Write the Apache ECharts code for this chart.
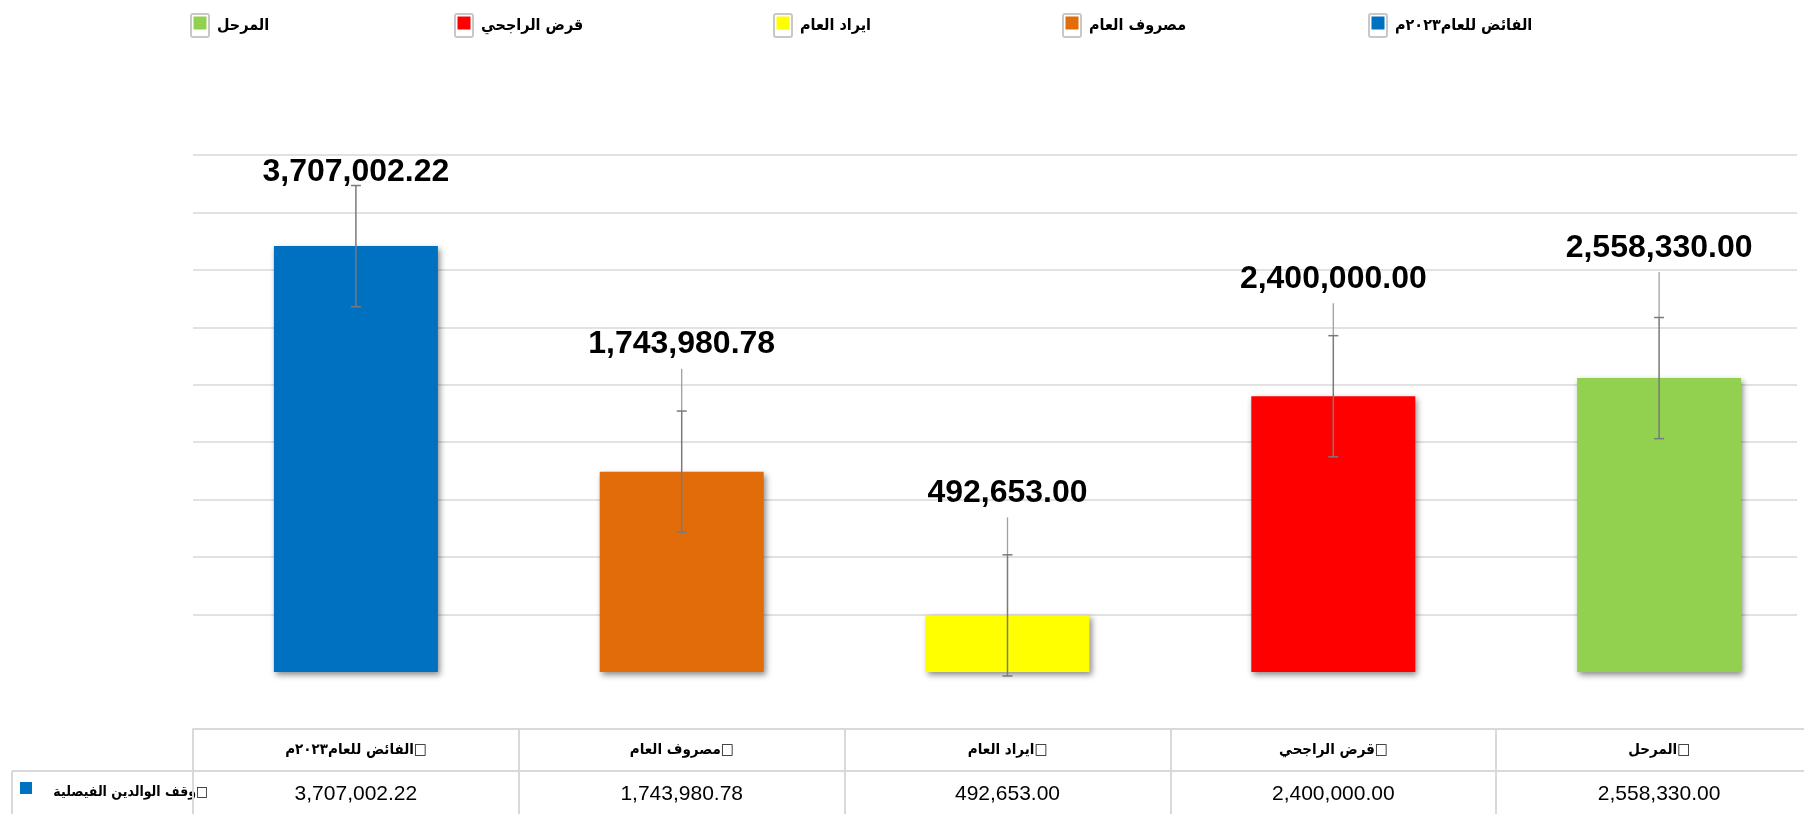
<!DOCTYPE html>
<html>
<head>
<meta charset="utf-8">
<script src="https://cdn.jsdelivr.net/npm/echarts@6/dist/echarts.min.js"></script>
<style>
html,body{margin:0;padding:0;background:#fff;}
#chart{width:1804px;height:814px;}
</style>
</head>
<body>
<div id="chart"></div>
<script>
// ---- data ----
const categories = ['الفائض للعام٢٠٢٣م', 'مصروف العام', 'ايراد العام', 'قرض الراجحي', 'المرحل'];
const values = [3707002.22, 1743980.78, 492653.00, 2400000.00, 2558330.00];
const seriesName = 'وقف الوالدين الفيصلية';
const errorAmount = 527300; // standard-error bar
const yTicks = { min: 0, max: 4500000, interval: 500000 };

// ---- styles ----
const colors = ['#0070C0', '#E36C0A', '#FFFF00', '#FF0000', '#92D050'];
const labelLift = [74, 127, 122, 117, 130];
const legendLeft = [1363, 1057, 768, 449, 185];
const ARABIC = '"DejaVu Sans Condensed", "DejaVu Sans", sans-serif';
const LATIN = '"Liberation Sans", Arial, sans-serif';

const fmt = v => v.toLocaleString('en-US', { minimumFractionDigits: 2, maximumFractionDigits: 2 });

function iconFor(c) {
  const svg = '<svg xmlns="http://www.w3.org/2000/svg" width="20" height="25">' +
    '<rect x="1" y="1" width="18" height="23" rx="2" fill="#ffffff" stroke="#c8c8c8" stroke-width="2"/>' +
    '<rect x="3.5" y="3.5" width="13" height="13" fill="' + c + '"/></svg>';
  return 'image://data:image/svg+xml;charset=utf-8,' + encodeURIComponent(svg);
}

const chart = echarts.init(document.getElementById('chart'), null, { renderer: 'canvas' });

const gridTop = 155, gridHeight = 517, gridLeft = 193, gridWidth = 1629;

const splitColors = [];
for (let v = yTicks.min; v <= yTicks.max; v += yTicks.interval) splitColors.push(v === 0 ? 'rgba(0,0,0,0)' : '#d9d9d9');

const barSeries = categories.map((name, k) => ({
  name: name,
  type: 'bar',
  xAxisIndex: 0,
  yAxisIndex: 0,
  barWidth: 164,
  barGap: '-100%',
  data: values.map((v, j) => j === k ? v : '-'),
  itemStyle: {
    color: colors[k],
    shadowColor: 'rgba(0,0,0,0.45)',
    shadowBlur: 6,
    shadowOffsetX: 2,
    shadowOffsetY: 3
  },
  z: 2
}));

const legends = categories.map((name, k) => ({
  data: [name],
  left: legendLeft[k],
  top: 8,
  orient: 'horizontal',
  itemWidth: 20,
  itemHeight: 25,
  icon: iconFor(colors[k]),
  selectedMode: false,
  textStyle: { fontFamily: ARABIC, fontWeight: 'bold', fontSize: 16, color: '#000', padding: [12, 0, 0, 2] }
}));

const errSeries = {
  type: 'custom',
  xAxisIndex: 0,
  yAxisIndex: 0,
  z: 5,
  silent: true,
  data: values.map((v, i) => [i, v]),
  renderItem: function (params, api) {
    const i = api.value(0), v = api.value(1);
    const top = api.coord([i, v]);
    const hi = api.coord([i, v + errorAmount]);
    const lo = api.coord([i, v - errorAmount]);
    const x = top[0];
    const labelY = top[1] - labelLift[i];
    const children = [];
    const errStyle = { stroke: '#7a7a7a', lineWidth: 1.5 };
    if (labelY + 24 < hi[1]) {
      children.push({ type: 'line', shape: { x1: x, y1: labelY + 24, x2: x, y2: hi[1] }, style: { stroke: '#a0a0a0', lineWidth: 1.3 } });
    }
    children.push({ type: 'line', shape: { x1: x, y1: hi[1], x2: x, y2: lo[1] }, style: errStyle });
    children.push({ type: 'line', shape: { x1: x - 5, y1: hi[1], x2: x + 5, y2: hi[1] }, style: errStyle });
    children.push({ type: 'line', shape: { x1: x - 5, y1: lo[1], x2: x + 5, y2: lo[1] }, style: errStyle });
    children.push({
      type: 'text',
      style: {
        x: x, y: labelY, text: fmt(v),
        textAlign: 'center', textVerticalAlign: 'middle',
        font: 'bold 32px ' + LATIN, fill: '#000'
      }
    });
    return { type: 'group', children: children };
  }
};

const option = {
  backgroundColor: '#ffffff',
  animation: false,
  legend: legends,
  grid: { left: gridLeft, top: gridTop, width: gridWidth, height: gridHeight, containLabel: false, outerBoundsMode: 'none' },
  xAxis: [
    {
      type: 'category', data: categories, position: 'bottom',
      axisLine: { show: false }, axisTick: { show: false }, axisLabel: { show: false }, splitLine: { show: false }
    },
    {
      type: 'category', data: categories, position: 'bottom', offset: 57,
      axisLine: { show: true, lineStyle: { color: '#d9d9d9', width: 2 } },
      axisTick: { show: true, interval: 0, length: 90, lineStyle: { color: '#d9d9d9', width: 2 } },
      axisLabel: {
        show: true, interval: 0, margin: 14,
        formatter: v => v + '\u25A1',
        fontFamily: ARABIC, fontWeight: 'bold', fontSize: 15, color: '#000'
      }
    },
    {
      type: 'category', data: categories, position: 'bottom', offset: 99,
      axisLine: { show: true, lineStyle: { color: '#d9d9d9', width: 2 } },
      axisTick: { show: false },
      axisLabel: {
        show: true, interval: 0, margin: 13,
        formatter: (v, idx) => fmt(values[idx]),
        fontFamily: LATIN, fontSize: 21, color: '#000'
      }
    }
  ],
  yAxis: {
    type: 'value', min: yTicks.min, max: yTicks.max, interval: yTicks.interval,
    axisLine: { show: false }, axisTick: { show: false }, axisLabel: { show: false },
    splitLine: { show: true, lineStyle: { color: splitColors, width: 1.5 } }
  },
  series: barSeries.concat([errSeries]),
  graphic: [
    { type: 'rect', shape: { x: 1797, y: 140, width: 10, height: 545 }, style: { fill: '#ffffff' }, z: 1 },
    { type: 'line', shape: { x1: 12, y1: 771, x2: 193, y2: 771 }, style: { stroke: '#d9d9d9', lineWidth: 2 } },
    { type: 'line', shape: { x1: 12, y1: 771, x2: 12, y2: 814 }, style: { stroke: '#d9d9d9', lineWidth: 2 } },
    { type: 'rect', shape: { x: 20, y: 782, width: 12, height: 12 }, style: { fill: colors[0] } },
    {
      type: 'text',
      style: {
        x: 208, y: 792, text: seriesName + '\u25A1',
        textAlign: 'right', textVerticalAlign: 'middle',
        font: 'bold 14px ' + ARABIC, fill: '#000'
      }
    }
  ]
};

chart.setOption(option);
</script>
</body>
</html>
